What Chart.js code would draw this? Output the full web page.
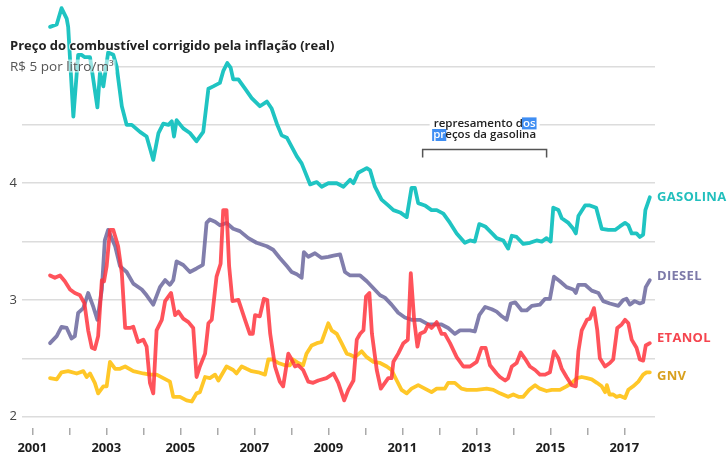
<!DOCTYPE html>
<html lang="pt-BR">
<head>
<meta charset="utf-8">
<title>Preço do combustível corrigido pela inflação</title>
<script src="https://cdn.jsdelivr.net/npm/chart.js@4/dist/chart.umd.min.js"></script>
<style>
  html, body { margin: 0; padding: 0; background: #fff; }
  #wrap { position: relative; width: 728px; height: 470px; }
</style>
</head>
<body>
<div id="wrap"><canvas id="grafico"></canvas></div>
<script>
// [ano, R$ por litro/m³]
const gasolina = [
  [2001.48,5.34],[2001.66,5.36],[2001.79,5.50],[2001.93,5.41],[2001.97,5.34],[2002.11,4.57],
  [2002.24,5.10],[2002.33,5.10],[2002.42,5.08],[2002.56,5.08],[2002.76,4.65],[2002.83,4.95],
  [2002.92,4.83],[2003.05,5.12],[2003.19,5.10],[2003.28,5.00],[2003.42,4.66],[2003.55,4.50],
  [2003.69,4.50],[2003.91,4.44],[2004.09,4.40],[2004.27,4.20],[2004.41,4.43],[2004.54,4.51],
  [2004.68,4.50],[2004.77,4.53],[2004.83,4.40],[2004.90,4.54],[2005.08,4.47],[2005.26,4.43],
  [2005.44,4.36],[2005.62,4.44],[2005.76,4.81],[2005.89,4.83],[2006.07,4.86],[2006.16,4.96],
  [2006.27,5.03],[2006.36,4.99],[2006.43,4.89],[2006.57,4.89],[2006.75,4.81],[2006.93,4.73],
  [2007.15,4.66],[2007.34,4.70],[2007.47,4.64],[2007.61,4.51],[2007.74,4.41],[2007.88,4.39],
  [2008.15,4.23],[2008.28,4.17],[2008.51,3.99],[2008.69,4.01],[2008.82,3.97],[2009.00,4.00],
  [2009.23,4.00],[2009.41,3.97],[2009.59,4.03],[2009.68,4.00],[2009.81,4.09],[2010.04,4.13],
  [2010.13,4.11],[2010.26,3.97],[2010.44,3.86],[2010.62,3.81],[2010.76,3.77],[2010.94,3.75],
  [2011.12,3.71],[2011.25,3.96],[2011.34,3.96],[2011.43,3.83],[2011.61,3.81],[2011.79,3.77],
  [2011.93,3.77],[2012.11,3.74],[2012.29,3.66],[2012.47,3.57],[2012.69,3.49],[2012.83,3.51],
  [2012.96,3.50],[2013.08,3.65],[2013.24,3.63],[2013.46,3.56],[2013.55,3.53],[2013.73,3.51],
  [2013.86,3.44],[2013.96,3.55],[2014.09,3.54],[2014.27,3.48],[2014.45,3.49],[2014.63,3.51],
  [2014.77,3.50],[2014.90,3.53],[2015.01,3.50],[2015.08,3.79],[2015.22,3.77],[2015.31,3.70],
  [2015.49,3.66],[2015.62,3.61],[2015.69,3.57],[2015.76,3.72],[2015.94,3.81],[2016.07,3.81],
  [2016.24,3.79],[2016.39,3.61],[2016.57,3.60],[2016.75,3.60],[2016.88,3.63],[2017.02,3.66],
  [2017.11,3.64],[2017.20,3.57],[2017.33,3.57],[2017.42,3.54],[2017.51,3.56],[2017.57,3.77],
  [2017.69,3.88]
];
const diesel = [
  [2001.48,2.63],[2001.66,2.69],[2001.79,2.77],[2001.93,2.76],[2002.06,2.67],[2002.15,2.69],
  [2002.24,2.89],[2002.38,2.93],[2002.51,3.06],[2002.65,2.94],[2002.76,2.83],[2002.88,3.09],
  [2002.96,3.51],[2003.05,3.60],[2003.24,3.46],[2003.37,3.29],[2003.55,3.24],[2003.73,3.14],
  [2003.96,3.09],[2004.09,3.04],[2004.27,2.96],[2004.45,3.11],[2004.59,3.17],[2004.72,3.13],
  [2004.81,3.17],[2004.90,3.33],[2005.08,3.30],[2005.26,3.24],[2005.44,3.27],[2005.61,3.30],
  [2005.71,3.66],[2005.80,3.69],[2005.94,3.67],[2006.07,3.64],[2006.25,3.66],[2006.43,3.61],
  [2006.61,3.59],[2006.84,3.53],[2007.06,3.49],[2007.34,3.46],[2007.51,3.43],[2007.69,3.36],
  [2007.88,3.29],[2008.01,3.24],[2008.15,3.22],[2008.28,3.19],[2008.34,3.41],[2008.46,3.37],
  [2008.64,3.40],[2008.82,3.36],[2009.00,3.37],[2009.14,3.38],[2009.32,3.39],[2009.45,3.24],
  [2009.59,3.21],[2009.86,3.21],[2010.04,3.16],[2010.22,3.10],[2010.40,3.04],[2010.53,3.02],
  [2010.71,2.96],[2010.89,2.89],[2011.07,2.85],[2011.25,2.83],[2011.48,2.83],[2011.70,2.79],
  [2011.88,2.79],[2012.06,2.79],[2012.24,2.76],[2012.42,2.71],[2012.56,2.74],[2012.69,2.74],
  [2012.83,2.74],[2012.96,2.73],[2013.08,2.87],[2013.24,2.94],[2013.42,2.92],[2013.55,2.90],
  [2013.69,2.86],[2013.82,2.83],[2013.93,2.97],[2014.05,2.98],[2014.23,2.91],[2014.36,2.91],
  [2014.50,2.95],[2014.72,2.96],[2014.86,3.01],[2014.99,3.01],[2015.10,3.20],[2015.26,3.16],
  [2015.44,3.11],[2015.62,3.09],[2015.69,3.06],[2015.76,3.13],[2015.94,3.13],[2016.12,3.08],
  [2016.30,3.06],[2016.43,2.99],[2016.61,2.97],[2016.84,2.95],[2016.97,3.00],[2017.06,3.01],
  [2017.15,2.96],[2017.28,2.99],[2017.42,2.97],[2017.51,2.98],[2017.58,3.11],[2017.69,3.17]
];
const etanol = [
  [2001.48,3.21],[2001.61,3.19],[2001.75,3.21],[2001.88,3.16],[2002.02,3.09],[2002.15,3.06],
  [2002.29,3.04],[2002.41,2.97],[2002.51,2.74],[2002.61,2.59],[2002.69,2.58],[2002.78,2.69],
  [2002.88,3.17],[2002.94,3.16],[2003.01,3.29],[2003.10,3.60],[2003.19,3.60],[2003.32,3.46],
  [2003.42,3.23],[2003.51,2.76],[2003.64,2.76],[2003.73,2.77],[2003.86,2.64],[2004.00,2.66],
  [2004.09,2.60],[2004.18,2.29],[2004.27,2.20],[2004.36,2.74],[2004.50,2.83],[2004.59,2.99],
  [2004.75,3.06],[2004.86,2.87],[2004.95,2.90],[2005.08,2.84],[2005.22,2.81],[2005.35,2.76],
  [2005.44,2.34],[2005.53,2.43],[2005.67,2.54],[2005.76,2.80],[2005.85,2.83],[2005.98,3.20],
  [2006.09,3.31],[2006.16,3.77],[2006.25,3.77],[2006.32,3.29],[2006.41,2.99],[2006.57,3.00],
  [2006.75,2.83],[2006.88,2.71],[2006.96,2.71],[2007.02,2.87],[2007.15,2.86],[2007.26,3.01],
  [2007.35,3.00],[2007.43,2.71],[2007.56,2.43],[2007.69,2.30],[2007.78,2.26],[2007.92,2.54],
  [2008.01,2.49],[2008.10,2.43],[2008.19,2.44],[2008.32,2.40],[2008.46,2.30],[2008.59,2.29],
  [2008.73,2.31],[2008.95,2.33],[2009.14,2.37],[2009.27,2.29],[2009.43,2.14],[2009.54,2.23],
  [2009.68,2.31],[2009.77,2.66],[2009.86,2.71],[2009.95,2.74],[2010.02,3.03],[2010.11,3.06],
  [2010.18,2.71],[2010.31,2.40],[2010.42,2.24],[2010.53,2.29],[2010.62,2.33],[2010.71,2.33],
  [2010.76,2.47],[2010.89,2.54],[2011.03,2.63],[2011.15,2.66],[2011.23,3.23],[2011.32,2.83],
  [2011.41,2.60],[2011.48,2.71],[2011.61,2.73],[2011.70,2.79],[2011.79,2.76],[2011.93,2.81],
  [2012.06,2.71],[2012.15,2.71],[2012.29,2.63],[2012.47,2.51],[2012.65,2.43],[2012.83,2.43],
  [2013.01,2.47],[2013.14,2.59],[2013.25,2.59],[2013.37,2.44],[2013.55,2.37],[2013.64,2.34],
  [2013.78,2.31],[2013.86,2.33],[2013.96,2.43],[2014.09,2.46],[2014.20,2.55],[2014.31,2.50],
  [2014.45,2.43],[2014.59,2.40],[2014.72,2.36],[2014.86,2.36],[2014.99,2.38],[2015.10,2.56],
  [2015.22,2.50],[2015.31,2.41],[2015.44,2.34],[2015.58,2.27],[2015.69,2.26],[2015.76,2.56],
  [2015.85,2.74],[2015.99,2.83],[2016.07,2.84],[2016.18,2.93],[2016.27,2.74],[2016.34,2.50],
  [2016.48,2.43],[2016.61,2.46],[2016.70,2.49],[2016.81,2.76],[2016.93,2.79],[2017.02,2.83],
  [2017.11,2.80],[2017.20,2.66],[2017.33,2.59],[2017.42,2.49],[2017.51,2.48],[2017.58,2.61],
  [2017.69,2.63]
];
const gnv = [
  [2001.48,2.33],[2001.66,2.32],[2001.79,2.38],[2001.97,2.39],[2002.20,2.37],[2002.38,2.39],
  [2002.47,2.34],[2002.56,2.37],[2002.69,2.29],[2002.78,2.20],[2002.92,2.26],[2003.01,2.26],
  [2003.10,2.47],[2003.24,2.41],[2003.37,2.41],[2003.51,2.43],[2003.73,2.39],[2004.00,2.37],
  [2004.18,2.36],[2004.36,2.36],[2004.54,2.33],[2004.72,2.30],[2004.81,2.17],[2004.99,2.17],
  [2005.17,2.14],[2005.31,2.13],[2005.44,2.20],[2005.53,2.21],[2005.67,2.34],[2005.80,2.33],
  [2005.94,2.36],[2006.03,2.31],[2006.25,2.43],[2006.43,2.40],[2006.52,2.37],[2006.66,2.43],
  [2006.79,2.41],[2006.93,2.39],[2007.11,2.38],[2007.29,2.36],[2007.38,2.49],[2007.51,2.49],
  [2007.65,2.46],[2007.83,2.44],[2007.96,2.44],[2008.05,2.49],[2008.19,2.46],[2008.32,2.44],
  [2008.41,2.54],[2008.55,2.61],[2008.69,2.63],[2008.82,2.64],[2009.00,2.80],[2009.09,2.74],
  [2009.23,2.71],[2009.36,2.63],[2009.50,2.54],[2009.59,2.53],[2009.72,2.51],[2009.90,2.56],
  [2010.04,2.51],[2010.22,2.47],[2010.40,2.46],[2010.58,2.43],[2010.71,2.40],[2010.85,2.31],
  [2010.98,2.23],[2011.12,2.20],[2011.25,2.24],[2011.43,2.27],[2011.61,2.24],[2011.79,2.21],
  [2011.93,2.24],[2012.15,2.24],[2012.24,2.29],[2012.42,2.29],[2012.60,2.24],[2012.74,2.23],
  [2013.01,2.23],[2013.28,2.24],[2013.46,2.23],[2013.64,2.20],[2013.86,2.17],[2014.00,2.19],
  [2014.14,2.17],[2014.27,2.17],[2014.43,2.23],[2014.59,2.27],[2014.72,2.24],[2014.90,2.22],
  [2015.04,2.23],[2015.26,2.23],[2015.44,2.26],[2015.58,2.29],[2015.72,2.33],[2015.85,2.34],
  [2015.99,2.33],[2016.12,2.32],[2016.26,2.29],[2016.39,2.26],[2016.48,2.21],[2016.53,2.27],
  [2016.60,2.19],[2016.70,2.19],[2016.79,2.17],[2016.88,2.18],[2017.02,2.16],[2017.11,2.23],
  [2017.24,2.26],[2017.38,2.30],[2017.51,2.36],[2017.60,2.38],[2017.69,2.38]
];

const anosEixo = [2001, 2002, 2003, 2004, 2005, 2006, 2007, 2008, 2009, 2010, 2011, 2012, 2013, 2014, 2015, 2016, 2017];
const valoresEixo = [2, 2.5, 3, 3.5, 4, 4.5, 5];
const nomes = ["GASOLINA", "DIESEL", "ETANOL", "GNV"];

const titulo = "Preço do combustível corrigido pela inflação (real)";
const unidade = "R$ 5 por litro/m³";
const nota = ["represamento d", "os", "pr", "eços da gasolina"];
const notaInicio = 2011.55;
const notaFim = 2014.9;

const FONTE = '"Open Sans", Lato, sans-serif';
const cores = ["#1fc4c2", "rgba(112,108,160,0.88)", "rgba(255,50,60,0.84)", "#ffc728"];
const coresRotulo = ["#22bfbd", "#7d7aa9", "#f5454f", "#d8a01e"];
// nível (no eixo y) onde cada rótulo da direita é escrito
const nivelRotulo = [3.88, 3.20, 2.67, 2.35];

const paraPontos = (serie) => serie.map(([x, y]) => ({ x, y }));

const textos = {
  id: "textos",
  beforeDatasetsDraw(chart) {
    const { ctx, scales: { x, y } } = chart;
    ctx.save();
    ctx.fillStyle = "#fff";
    const y5 = y.getPixelForValue(5);
    ctx.fillRect(0, y5 - 4, 117, 8);
    const cx = x.getPixelForValue((notaInicio + notaFim) / 2);
    const by = y.getPixelForValue(4.29);
    ctx.fillRect(cx - 55, by - 34, 110, 26);
    ctx.restore();
  },
  afterDatasetsDraw(chart) {
    const { ctx, scales: { x, y } } = chart;
    ctx.save();
    ctx.textBaseline = "alphabetic";
    ctx.lineJoin = "round";

    // título e unidade
    ctx.font = `bold 13px ${FONTE}`;
    ctx.strokeStyle = "rgba(255,255,255,0.8)";
    ctx.lineWidth = 2;
    ctx.strokeText(titulo, 10, 50);
    ctx.fillStyle = "#222";
    ctx.fillText(titulo, 10, 50);

    const y5 = y.getPixelForValue(5);
    ctx.font = `13.5px ${FONTE}`;
    const wu = ctx.measureText(unidade).width;
    ctx.fillStyle = "rgba(255,255,255,0.55)";
    ctx.fillRect(9, y5 - 7, wu + 3, 13);
    ctx.fillStyle = "#555";
    ctx.fillText(unidade, 10, y5 + 4.5);

    // rótulos das séries
    ctx.font = `bold 13px ${FONTE}`;
    ctx.textBaseline = "middle";
    if ("letterSpacing" in ctx) ctx.letterSpacing = "0.3px";
    nomes.forEach((nome, i) => {
      ctx.fillStyle = coresRotulo[i];
      ctx.fillText(nome, chart.chartArea.right + 2, y.getPixelForValue(nivelRotulo[i]));
    });
    if ("letterSpacing" in ctx) ctx.letterSpacing = "0px";

    // colchete do represamento
    const x1 = x.getPixelForValue(notaInicio);
    const x2 = x.getPixelForValue(notaFim);
    const by = y.getPixelForValue(4.29);
    ctx.strokeStyle = "#555";
    ctx.lineWidth = 1.5;
    ctx.lineJoin = "miter";
    ctx.beginPath();
    ctx.moveTo(x1, by + 8);
    ctx.lineTo(x1, by);
    ctx.lineTo(x2, by);
    ctx.lineTo(x2, by + 8);
    ctx.stroke();

    // texto da nota (com o trecho selecionado em azul)
    const cx = (x1 + x2) / 2;
    ctx.font = `600 11.5px ${FONTE}`;
    ctx.textBaseline = "middle";
    const linhas = [[nota[0], nota[1], false], [nota[2], nota[3], true]];
    linhas.forEach(([a, b, azulPrimeiro], k) => {
      const ly = by - 26 + k * 11.6;
      const wa = ctx.measureText(a).width;
      const wb = ctx.measureText(b).width;
      let px = cx - (wa + wb) / 2;
      const desenha = (t, w, azul) => {
        if (azul) {
          ctx.fillStyle = "#3f8ef3";
          ctx.fillRect(px - 1, ly - 6, w + 2, 12);
          ctx.fillStyle = "#fff";
        } else {
          ctx.fillStyle = "#222";
        }
        ctx.fillText(t, px, ly);
        px += w;
      };
      ctx.textAlign = "left";
      desenha(a, wa, azulPrimeiro);
      desenha(b, wb, !azulPrimeiro);
    });
    ctx.restore();
  }
};

new Chart(document.getElementById("grafico"), {
  type: "line",
  data: {
    datasets: [gasolina, diesel, etanol, gnv].map((serie, i) => ({
      label: nomes[i],
      data: paraPontos(serie),
      borderColor: cores[i],
      borderWidth: 3.8,
      pointRadius: 0,
      tension: 0,
      borderJoinStyle: "round",
      borderCapStyle: "round",
      order: [0, 2, 1, 3][i]
    }))
  },
  options: {
    responsive: true,
    maintainAspectRatio: false,
    animation: false,
    layout: { padding: { top: 0, right: 73, bottom: 0, left: 0 } },
    plugins: { legend: { display: false }, tooltip: { enabled: false } },
    scales: {
      x: {
        type: "linear",
        min: 2000.722,
        max: 2017.83,
        afterBuildTicks: (s) => { s.ticks = anosEixo.map((v) => ({ value: v })); },
        afterFit: (s) => { s.height = 42; s.paddingLeft = 0; s.paddingRight = 0; },
        grid: { drawOnChartArea: false, drawTicks: true, tickLength: 7, color: "#aaa", lineWidth: 1.5 },
        border: { display: false },
        ticks: {
          autoSkip: false,
          maxRotation: 0,
          padding: 5,
          color: "#1d1d1d",
          font: { family: FONTE, size: 13, weight: "bold" },
          callback: (v) => (v % 2 === 1 ? String(v) : "")
        }
      },
      y: {
        min: 1.903,
        max: 5.57,
        afterBuildTicks: (s) => { s.ticks = valoresEixo.map((v) => ({ value: v })); },
        afterFit: (s) => { s.width = 22; s.paddingTop = 0; s.paddingBottom = 0; },
        grid: { drawTicks: false, color: "#dcdcdc", lineWidth: 1.5 },
        border: { display: false },
        ticks: {
          padding: 5,
          color: "#444",
          font: { family: FONTE, size: 13 },
          callback: (v) => (Number.isInteger(v) && v < 5 ? String(v) : "")
        }
      }
    }
  },
  plugins: [textos]
});
</script>
</body>
</html>
